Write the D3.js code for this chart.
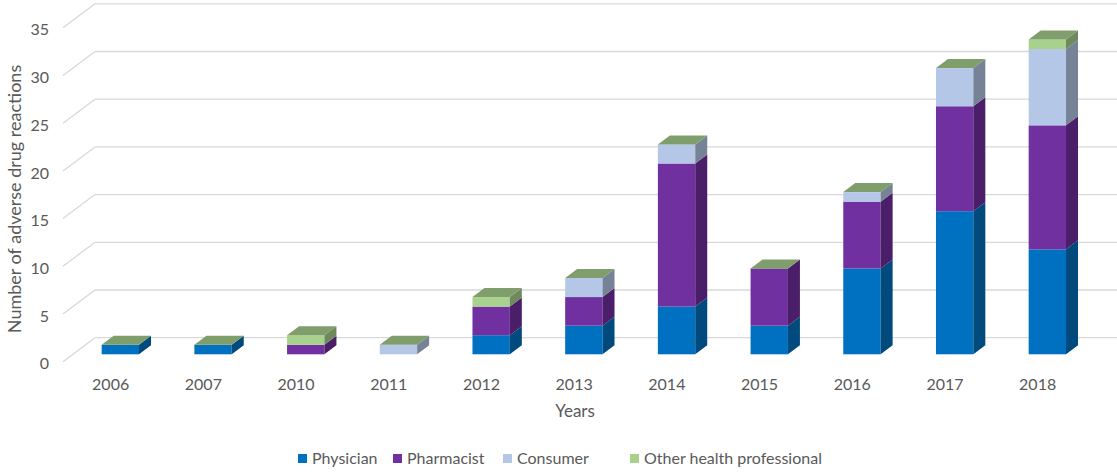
<!DOCTYPE html>
<html>
<head>
<meta charset="utf-8">
<script src="https://cdn.jsdelivr.net/npm/d3@7"></script>
<style>
  body { margin: 0; background: #fff; }
  #chart { width: 1117px; height: 473px; }
  text { font-family: Lato, "Open Sans", sans-serif; fill: #595959; }
</style>
</head>
<body>
<div id="chart"></div>
<script>
var years = ['2006', '2007', '2010', '2011', '2012', '2013', '2014', '2015', '2016', '2017', '2018'];
var seriesNames = ['Physician', 'Pharmacist', 'Consumer', 'Other health professional'];
var physician = [1, 1, 0, 0, 2, 3, 5, 3, 9, 15, 11];
var pharmacist = [0, 0, 1, 0, 3, 3, 15, 6, 7, 11, 13];
var consumer = [0, 0, 0, 1, 0, 2, 2, 0, 1, 4, 8];
var otherHealth = [0, 0, 1, 0, 1, 0, 0, 0, 0, 0, 1];
var yTicks = [0, 5, 10, 15, 20, 25, 30, 35];

var frontColors = ['#0070C0', '#7030A0', '#B4C7E7', '#A9D18E'];
var sideColors = ['#004A7E', '#4A1E68', '#768397', '#6F895D'];
var topColor = '#7F9E6B';

var width = 1117, height = 473;
var depthX = 12, depthY = -9;        // bar depth
var wallX = 32, wallY = -24;         // floor depth
var barShiftY = 16.6;                // bar front face below back wall

var rows = years.map(function (y, i) {
    return { year: y, Physician: physician[i], Pharmacist: pharmacist[i],
             Consumer: consumer[i], 'Other health professional': otherHealth[i] };
});
var stacked = d3.stack().keys(seriesNames)(rows);

var x = d3.scaleBand().domain(years).range([74, 1093.7]).paddingInner(0.597).paddingOuter(0.2985);
var y = d3.scaleLinear().domain([0, 35]).range([354.3, 354.3 - 35 * 9.54]);

var svg = d3.select('#chart').append('svg').attr('width', width).attr('height', height);

// back wall grid lines and left wall diagonals
var grid = svg.append('g');
yTicks.forEach(function (t) {
    var yb = y(t) - barShiftY;
    grid.append('line').attr('x1', 95).attr('x2', width).attr('y1', yb).attr('y2', yb)
        .attr('stroke', '#D9D9D9').attr('stroke-width', 1.3);
    grid.append('line').attr('x1', 95 - wallX).attr('y1', yb - wallY).attr('x2', 95).attr('y2', yb)
        .attr('stroke', '#D9D9D9').attr('stroke-width', 1.3);
});

// y tick labels
svg.append('g').selectAll('text').data(yTicks).enter().append('text')
    .attr('x', 49).attr('y', function (d) { return y(d) - barShiftY - wallY + 2; })
    .attr('dy', '0.35em').attr('text-anchor', 'end').style('font-size', '16px')
    .text(function (d) { return d; });

// bars
var bars = svg.append('g');
years.forEach(function (yr, i) {
    var x0 = x(yr), w = x.bandwidth();
    stacked.forEach(function (s, k) {
        var d = s[i];
        if (d[1] - d[0] <= 0) return;
        var yt = y(d[1]), yb = y(d[0]);
        bars.append('rect').attr('x', x0).attr('y', yt).attr('width', w).attr('height', yb - yt)
            .attr('fill', frontColors[k]);
        bars.append('path')
            .attr('d', 'M' + (x0 + w) + ',' + yb + 'L' + (x0 + w + depthX) + ',' + (yb + depthY) +
                'L' + (x0 + w + depthX) + ',' + (yt + depthY) + 'L' + (x0 + w) + ',' + yt + 'Z')
            .attr('fill', sideColors[k]);
    });
    var total = stacked[stacked.length - 1][i][1];
    var ty = y(total);
    bars.append('path')
        .attr('d', 'M' + x0 + ',' + ty + 'L' + (x0 + w) + ',' + ty + 'L' + (x0 + w + depthX) + ',' + (ty + depthY) +
            'L' + (x0 + depthX) + ',' + (ty + depthY) + 'Z')
        .attr('fill', topColor);
});

// x tick labels
svg.append('g').selectAll('text').data(years).enter().append('text')
    .attr('x', function (d) { return x(d) + 9; }).attr('y', 390)
    .attr('text-anchor', 'middle').style('font-size', '16px')
    .text(function (d) { return d; });

// axis titles
svg.append('text').attr('x', 575).attr('y', 417).attr('text-anchor', 'middle')
    .style('font-size', '17px').text('Years');
svg.append('text').attr('transform', 'translate(21,199) rotate(-90)').attr('text-anchor', 'middle')
    .style('font-size', '18px').text('Number of adverse drug reactions');

// legend
var legendX = [298, 393, 503, 630];
var legend = svg.append('g').selectAll('g').data(seriesNames).enter().append('g')
    .attr('transform', function (d, i) { return 'translate(' + legendX[i] + ',458)'; });
legend.append('rect').attr('x', 0).attr('y', -4).attr('width', 9).attr('height', 9)
    .attr('fill', function (d, i) { return frontColors[i]; });
legend.append('text').attr('x', 14).attr('y', 0).attr('dy', '0.35em').style('font-size', '16px')
    .text(function (d) { return d; });
</script>
</body>
</html>
